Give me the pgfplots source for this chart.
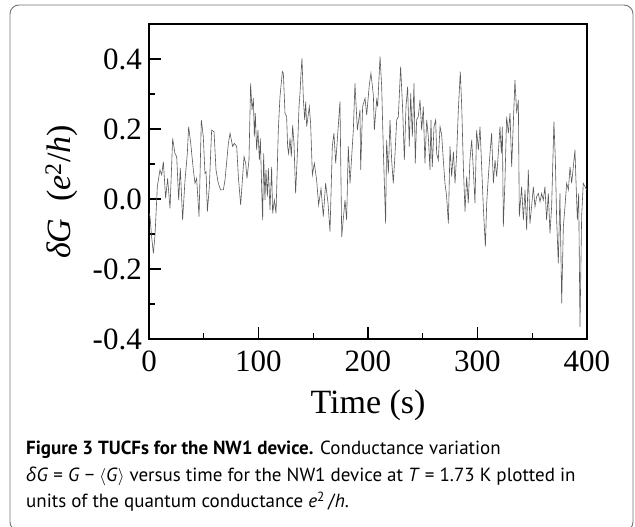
\documentclass[border=0pt]{standalone}
\usepackage{pgfplots}
\pgfplotsset{compat=1.18}
\usepackage{fontspec}
\setmainfont{Liberation Serif}
\newfontfamily\capfont{PT Sans}
\newfontfamily\greekfont{Open Sans}
\begin{document}
\begin{tikzpicture}[x=1pt,y=1pt]
\useasboundingbox (0,0) rectangle (635,527);
\draw[black!55, line width=0.9pt, rounded corners=9pt] (10,522) rectangle (633,-4);
\begin{axis}[
  at={(149pt,188pt)}, anchor=south west,
  width=438pt, height=315pt, scale only axis,
  xmin=0, xmax=400, ymin=-0.4, ymax=0.5,
  xtick={0,100,200,300,400}, xticklabels={0,100,200,300,400},
  minor xtick={50,150,250,350},
  ytick={-0.4,-0.2,0,0.2,0.4}, yticklabels={-0.4,-0.2,0.0,0.2,0.4},
  minor ytick={-0.3,-0.1,0.1,0.3},
  xtick pos=bottom, ytick pos=left,
  major tick length=12pt, minor tick length=6pt,
  every tick/.style={black, line width=1.2pt},
  axis line style={line width=1.5pt},
  tick label style={font=\fontsize{31}{31}\selectfont},
  xticklabel style={inner sep=0pt, yshift=-12pt},
  yticklabel style={inner sep=0pt, xshift=-7pt},
  xlabel={Time (s)},
  xlabel style={font=\fontsize{34}{34}\selectfont, at={(axis description cs:0.5,-0.235)}, anchor=base},
  ylabel={\textit{δG}\ \ (\textit{e}\textsuperscript{2}/\textit{h})},
  ylabel style={font=\fontsize{34}{34}\selectfont, at={(axis description cs:-0.2,0.467)}, anchor=center},
]
\addplot[black!65, line width=0.6pt] table {
0 -0.04
0.9 -0.050
2.4 -0.108
4.0 -0.155
5.5 -0.103
7.6 0.035
10.0 0.083
11.6 0.069
13.1 0.107
15.2 0.002
17.0 0.059
19.2 -0.027
21.6 0.173
23.7 0.130
25.3 0.121
27.1 -0.003
28.6 0.088
30.7 -0.060
32.9 0.054
35.0 0.130
36.2 0.207
38.1 0.159
40.5 0.083
42.0 0.045
43.5 0.059
45.7 -0.050
47.8 0.226
49.6 0.178
51.1 0.073
52.1 0.078
53.3 -0.036
55.1 0.035
57.2 0.197
59.4 0.192
61.2 0.083
63.3 0.045
65.4 0.026
67.9 0.026
69.4 0.054
72.5 0.159
74.0 0.188
75.5 0.164
76.4 0.150
77.9 0.159
80.1 0.150
81.6 0.064
83.7 -0.017
85.5 0.064
86.8 0.121
88.3 0.102
89.5 0.059
91.3 0.111
92.8 0.330
94.1 0.254
95.3 0.288
96.2 0.178
97.1 0.245
98.3 0.140
99.5 0.197
100.8 0.111
101.7 0.173
103.2 -0.003
103.8 -0.060
104.7 0.130
105.9 -0.003
106.8 0.083
108.1 0.007
109.0 0.088
110.5 -0.031
112.0 0.092
112.9 -0.041
114.5 -0.003
116.0 -0.041
118.1 0.197
119.6 0.292
121.8 0.364
122.7 0.359
124.2 0.245
125.7 0.235
126.6 0.150
127.5 0.130
128.8 0.173
130.0 0.121
131.2 0.211
132.4 0.159
133.9 0.016
135.5 0.130
137.0 0.264
137.9 0.302
138.8 0.359
139.7 0.402
141.0 0.283
142.2 0.226
143.1 0.278
144.0 0.207
145.2 0.235
146.4 0.264
147.6 0.216
149.2 0.069
151.0 0.102
153.1 0.054
154.9 -0.017
157.1 0.030
159.2 -0.050
161.3 0.045
163.5 -0.012
165.3 -0.093
167.4 0.150
168.9 0.188
170.5 0.102
172.3 0.183
174.4 0.278
176.0 -0.108
179.0 -0.003
180.5 -0.060
182.0 0.150
183.6 0.045
186.6 0.197
188.1 0.330
190.3 0.197
192.7 0.254
193.3 0.083
195.1 0.264
197.3 0.288
198.8 0.240
201.2 0.326
202.7 0.359
204.9 0.297
205.8 0.197
207.9 0.283
208.8 0.264
211.0 0.407
212.5 0.321
214.0 0.140
216.1 -0.070
217.0 0.169
218.6 0.073
220.1 0.226
221.6 0.111
223.1 0.045
224.7 0.130
226.2 0.226
227.7 0.235
229.8 0.378
231.7 0.254
233.2 0.111
234.7 0.264
236.2 0.321
237.7 0.150
239.0 0.302
240.5 0.178
242.0 0.330
243.2 0.102
244.4 0.226
245.9 0.235
247.5 0.283
249.0 0.197
250.5 0.264
252.0 0.102
253.6 0.226
255.1 0.178
256.6 0.083
257.5 0.226
258.7 0.092
260.3 0.207
261.8 0.226
262.7 0.130
264.2 0.111
265.8 0.207
267.3 0.183
268.8 0.111
270.3 0.045
271.8 0.007
273.4 -0.070
274.9 0.150
276.4 0.064
278.0 0.135
279.5 0.045
281.0 0.130
282.5 0.254
284.3 0.364
285.6 0.264
287.1 0.092
288.6 -0.036
290.1 0.064
291.6 -0.012
293.1 0.111
294.7 0.169
296.2 0.083
297.7 -0.012
299.2 0.197
300.8 0.140
302.3 0.207
303.8 0.092
305.3 -0.022
307.2 -0.136
308.4 -0.012
309.9 0.064
311.4 0.130
312.9 0.188
314.5 0.045
316.0 0.111
317.5 0.064
319.0 0.130
320.5 0.207
321.8 0.130
322.7 0.207
323.6 -0.079
325.1 0.054
326.6 0.235
328.2 0.188
329.7 0.245
331.2 0.092
332.7 0.216
334.2 0.340
335.8 0.245
337.3 0.283
338.2 -0.050
340.3 0.035
341.9 -0.060
343.4 0.026
344.9 -0.089
346.4 0.083
347.9 -0.070
349.4 -0.022
351.0 0.035
352.5 -0.022
354.0 0.007
355.6 0.016
357.1 -0.008
358.6 0.016
360.1 -0.003
361.6 0.035
363.1 -0.060
364.7 0.016
366.2 -0.098
367.7 -0.022
369.8 0.221
371.1 0.111
372.3 -0.060
373.8 -0.184
375.3 0.016
376.9 -0.298
378.4 -0.079
379.9 -0.022
381.4 0.045
383.0 0.026
384.5 0.092
386.0 0.045
387.5 0.092
389.0 0.140
389.9 0.054
391.2 -0.060
392.4 0.016
393.6 -0.365
395.1 -0.050
396.6 0.045
398.2 0.035
399.7 0.026
};
\end{axis}
\capfont\fontsize{19}{19}\selectfont
\node[anchor=base west, inner sep=0pt] at (26,72.5) {\textbf{Figure 3 TUCFs for the NW1 device.} Conductance variation};
\node[anchor=base west, inner sep=0pt] at (26,45.6) {{\greekfont\itshape δ}\textit{G} = \textit{G} − $\langle$\textit{G}$\rangle$ versus time for the NW1 device at \textit{T} = 1.73 K plotted in};
\node[anchor=base west, inner sep=0pt] at (26,19.4) {units of the quantum conductance \textit{e}\textsuperscript{2}\,/\textit{h}.};
\end{tikzpicture}
\end{document}
